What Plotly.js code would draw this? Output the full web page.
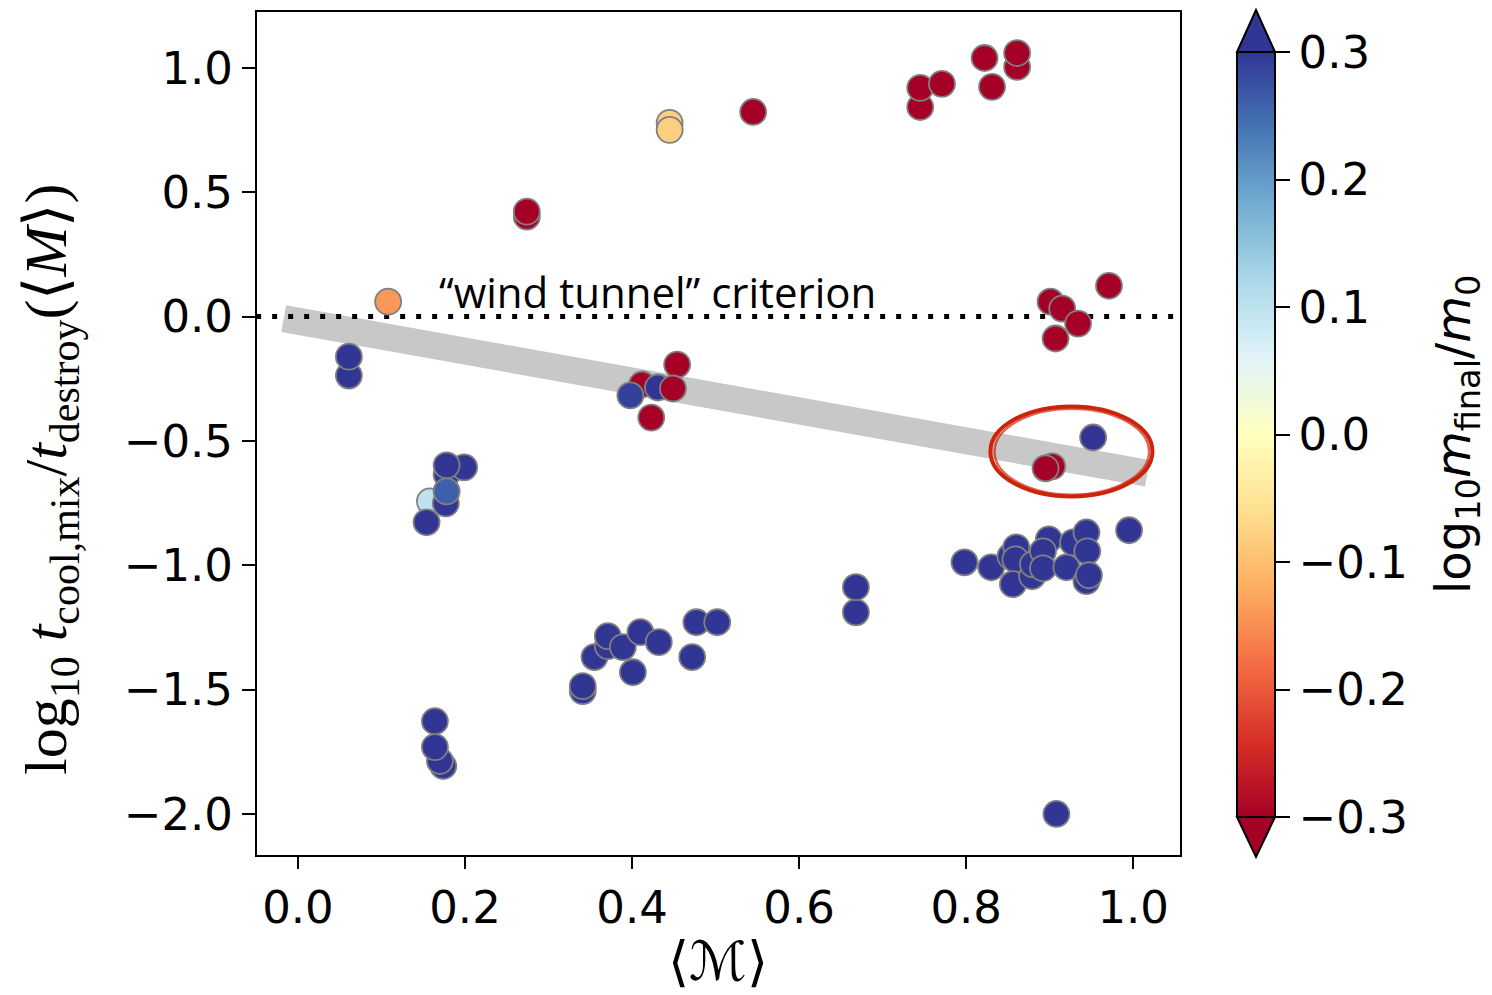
<!DOCTYPE html>
<html>
<head>
<meta charset="utf-8">
<script src="https://cdn.plot.ly/plotly-3.0.1.min.js"></script>
<style>html,body{margin:0;padding:0;background:#fff;}#chart{width:1492px;height:995px;}</style>
</head>
<body>
<div id="chart"></div>
<script>
// Mach number <M>
const machX = [
  0.158, 0.274, 0.274, 0.545, 0.745, 0.745, 0.771, 0.822, 0.831, 0.861, 0.861,
  0.901, 0.915, 0.934, 0.907, 0.971,
  0.108, 0.445, 0.445,
  0.412, 0.454, 0.398, 0.431, 0.449, 0.423,
  0.903, 0.895, 0.952,
  0.061, 0.061,
  0.178, 0.199, 0.178, 0.177, 0.178, 0.154,
  0.174, 0.170, 0.164, 0.164,
  0.341, 0.341, 0.355, 0.371, 0.371, 0.389, 0.410, 0.401, 0.432, 0.477, 0.502, 0.472,
  0.668, 0.668,
  0.798, 0.830, 0.853, 0.860, 0.859, 0.856, 0.879, 0.880, 0.899, 0.892, 0.892,
  0.920, 0.928, 0.944, 0.945, 0.944, 0.947, 0.995,
  0.908
];
// log10 t_cool,mix / t_destroy
const logRatio = [
  -0.743, 0.402, 0.422, 0.823, 0.843, 0.920, 0.936, 1.040, 0.924, 1.004, 1.060,
  0.060, 0.032, -0.028, -0.088, 0.124,
  0.060, 0.779, 0.751,
  -0.273, -0.193, -0.317, -0.285, -0.289, -0.406,
  -0.602, -0.610, -0.486,
  -0.237, -0.161,
  -0.635, -0.606, -0.598, -0.751, -0.703, -0.827,
  -1.807, -1.787, -1.731, -1.627,
  -1.506, -1.486, -1.369, -1.325, -1.285, -1.329, -1.269, -1.430, -1.309, -1.229, -1.229, -1.369,
  -1.189, -1.088,
  -0.988, -1.008, -0.964, -0.928, -0.976, -1.076, -1.044, -0.996, -0.896, -0.944, -1.012,
  -1.008, -0.908, -0.868, -0.944, -1.064, -1.040, -0.859,
  -2.000
];
// log10 m_final / m_0
const logMass = [
  0.10, -0.30, -0.30, -0.30, -0.30, -0.30, -0.30, -0.30, -0.30, -0.30, -0.30,
  -0.30, -0.30, -0.30, -0.30, -0.30,
  -0.14, -0.08, -0.08,
  -0.30, -0.30, 0.29, 0.30, -0.30, -0.30,
  -0.30, -0.30, 0.30,
  0.30, 0.30,
  0.30, 0.30, 0.30, 0.30, 0.26, 0.30,
  0.30, 0.30, 0.30, 0.30,
  0.30, 0.30, 0.30, 0.30, 0.30, 0.30, 0.30, 0.30, 0.30, 0.30, 0.30, 0.30,
  0.30, 0.30,
  0.30, 0.30, 0.30, 0.30, 0.30, 0.30, 0.30, 0.30, 0.30, 0.30, 0.30,
  0.30, 0.30, 0.30, 0.30, 0.30, 0.30, 0.30,
  0.30
];
// grey trend band and wind-tunnel criterion
const bandX = [-0.017, 1.017];
const bandY = [-0.008, -0.63];
const criterionX = [-0.05, 1.06];
const criterionY = [0, 0];
const xTicks = [0, 0.2, 0.4, 0.6, 0.8, 1.0];
const yTicks = [-2, -1.5, -1, -0.5, 0, 0.5, 1];
const cTicks = [-0.3, -0.2, -0.1, 0, 0.1, 0.2, 0.3];

const rdylbu = [
  [0.0, '#a50026'], [0.1, '#d73027'], [0.2, '#f46d43'], [0.3, '#fdae61'],
  [0.4, '#fee090'], [0.5, '#ffffbf'], [0.6, '#e0f3f8'], [0.7, '#abd9e9'],
  [0.8, '#74add1'], [0.9, '#4575b4'], [1.0, '#313695']
];

// pixel helpers (plot area 257..1180 x, 12..855 y)
const L = 257, R = 1180, T = 12, B = 855;
const px = v => (v - L) / (R - L);
const py = v => (B - v) / (B - T);
const TF = 45;

const traces = [
  {x: bandX, y: bandY, mode: 'lines', line: {color: 'rgb(200,200,200)', width: 27},
   hoverinfo: 'skip', showlegend: false},
  {x: criterionX, y: criterionY, mode: 'lines', line: {color: 'black', width: 5, dash: '5px,11px'},
   hoverinfo: 'skip', showlegend: false},
  {x: machX, y: logRatio, mode: 'markers', showlegend: false,
   marker: {size: 26, color: logMass, colorscale: rdylbu, cmin: -0.3, cmax: 0.3,
     line: {color: 'rgb(128,128,128)', width: 1.8},
     colorbar: {x: px(1237), xanchor: 'left', xpad: 0, ypad: 0, thickness: 38,
       lenmode: 'pixels', len: 765, y: py(434.5), yanchor: 'middle',
       outlinewidth: 2, outlinecolor: 'black',
       tickvals: cTicks, ticktext: cTicks.map(v => v.toFixed(1).replace('-', '\u2212')),
       ticks: 'outside', ticklen: 14, tickwidth: 2, tickcolor: 'black',
       tickfont: {family: 'DejaVu Sans', size: TF, color: 'black'}}}}
];

const layout = {
  width: 1492, height: 995,
  margin: {l: L, r: 1492 - R, t: T, b: 995 - B},
  paper_bgcolor: 'white', plot_bgcolor: 'white',
  xaxis: {range: [-0.049, 1.056], tickvals: xTicks, ticktext: xTicks.map(v => v.toFixed(1)),
    showgrid: false, zeroline: false, showline: true, mirror: true, linecolor: 'black', linewidth: 2,
    ticks: 'outside', ticklen: 12, tickwidth: 2, tickcolor: 'black',
    tickfont: {family: 'DejaVu Sans', size: TF, color: 'black'}},
  yaxis: {range: [-2.165, 1.225], tickvals: yTicks,
    ticktext: yTicks.map(v => v.toFixed(1).replace('-', '\u2212')),
    showgrid: false, zeroline: false, showline: true, mirror: true, linecolor: 'black', linewidth: 2,
    ticks: 'outside', ticklen: 13, tickwidth: 2, tickcolor: 'black',
    tickfont: {family: 'DejaVu Sans', size: TF, color: 'black'}},
  shapes: [
    {type: 'circle', xref: 'x', yref: 'y', x0: 0.829, x1: 1.023, y0: -0.361, y1: -0.723,
     line: {color: 'rgb(205,35,10)', width: 4}},
    {type: 'circle', xref: 'x', yref: 'y', x0: 0.834, x1: 1.019, y0: -0.370, y1: -0.716,
     line: {color: 'rgba(205,35,10,0.7)', width: 2.5}},
    {type: 'path', xref: 'paper', yref: 'paper', layer: 'above',
     path: `M ${px(1237)} ${py(52)} L ${px(1256)} ${py(10)} L ${px(1275)} ${py(52)} Z`,
     fillcolor: '#313695', line: {color: 'black', width: 2}},
    {type: 'path', xref: 'paper', yref: 'paper', layer: 'above',
     path: `M ${px(1237)} ${py(817)} L ${px(1256)} ${py(857)} L ${px(1275)} ${py(817)} Z`,
     fillcolor: '#a50026', line: {color: 'black', width: 2}}
  ],
  annotations: [
    {text: '\u201Cwind tunnel\u201D criterion', xref: 'x', yref: 'y', x: 0.166, y: 0.1,
     xanchor: 'left', yanchor: 'middle', showarrow: false,
     font: {family: 'Open Sans', size: 42, color: 'black'}},
    {text: 'log<sub>10</sub> <i>t</i><sub>cool,mix</sub>/<i>t</i><sub>destroy</sub>(\u27E8<i>M</i>\u27E9)',
     xref: 'paper', yref: 'paper', x: px(50), y: py(480), textangle: -90, showarrow: false,
     xanchor: 'center', yanchor: 'middle',
     font: {family: 'Liberation Serif', size: 60, color: 'black'}},
    {text: '\u27E8\u2133\u27E9', xref: 'paper', yref: 'paper', x: px(718), y: py(962),
     showarrow: false, xanchor: 'center', yanchor: 'middle',
     font: {family: 'Liberation Serif', size: 54, color: 'black'}},
    {text: 'log<sub>10</sub><i>m</i><sub>final</sub>/<i>m</i><sub>0</sub>',
     xref: 'paper', yref: 'paper', x: px(1456), y: py(435), textangle: -90, showarrow: false,
     xanchor: 'center', yanchor: 'middle',
     font: {family: 'DejaVu Sans', size: 48, color: 'black'}}
  ]
};

Plotly.newPlot('chart', traces, layout, {staticPlot: true, displayModeBar: false});
</script>
</body>
</html>
